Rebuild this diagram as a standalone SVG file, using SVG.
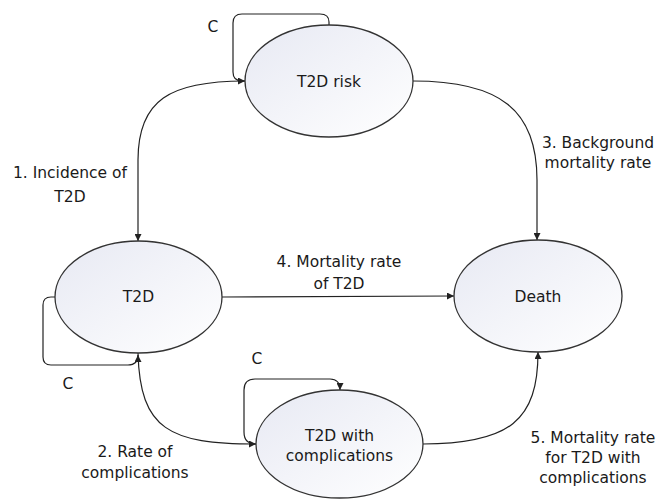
<svg xmlns="http://www.w3.org/2000/svg" width="658" height="499" viewBox="0 0 658 499">
<defs>
<linearGradient id="g" x1="0" y1="0" x2="1" y2="1">
<stop offset="0" stop-color="#e7e9f3"/>
<stop offset="1" stop-color="#ffffff"/>
</linearGradient>
<marker id="a" viewBox="0 0 10 10" refX="10" refY="5" markerWidth="7" markerHeight="7" markerUnits="userSpaceOnUse" orient="auto">
<path d="M0,0 L10,5 L0,10 Z" fill="#222"/>
</marker>
<style>
.n{fill:url(#g);stroke:#333;stroke-width:1.3}
.c{fill:none;stroke:#222;stroke-width:1.2;marker-end:url(#a)}
text{font-family:"DejaVu Sans","Verdana",sans-serif;font-size:15.5px;fill:#1a1a1a;text-anchor:middle}
</style>
</defs>
<rect width="658" height="499" fill="#fff"/>
<g id="connectors">
<path class="c" d="M329,25 L329,22 Q329,14 320,14 L242,14 Q233,14 233,23 L233,72 Q233,81 242,81 L245,81"/>
<path class="c" d="M245,81 C170,81 138,100 138,160 L138,241"/>
<path class="c" d="M413,81 C500,81 537,110 537,180 L537,240"/>
<path class="c" d="M222,297 L454,296"/>
<path class="c" d="M55,297 L51,297 Q43,297 43,305 L43,357 Q43,365 51,365 L128,365 Q138,365 138,355"/>
<path class="c" d="M138,353 C140,430 170,444 256,444"/>
<path class="c" d="M256,444 Q244,444 244,432 L244,390 Q244,379 255,379 L330,379 Q340,379 340,390"/>
<path class="c" d="M423,444 C510,444 538,420 538,352"/>
<text x="213" y="31.5">C</text>
<text x="70" y="177.5">1. Incidence of</text>
<text x="70" y="201.5">T2D</text>
<text x="598" y="147.5">3. Background</text>
<text x="598" y="167.5">mortality rate</text>
<text x="339" y="267">4. Mortality rate</text>
<text x="339" y="289">of T2D</text>
<text x="68" y="388.5">C</text>
<text x="135" y="457">2. Rate of</text>
<text x="135" y="478">complications</text>
<text x="257" y="363.5">C</text>
<text x="593" y="443">5. Mortality rate</text>
<text x="593" y="463">for T2D with</text>
<text x="593" y="483">complications</text>
</g>
<g id="t2d-risk"><ellipse class="n" cx="329" cy="81" rx="84" ry="56"/><text x="329" y="87">T2D risk</text></g>
<g id="t2d"><ellipse class="n" cx="138.5" cy="297" rx="83.5" ry="56"/><text x="138.5" y="302">T2D</text></g>
<g id="death"><ellipse class="n" cx="538" cy="296" rx="84" ry="56"/><text x="538" y="301.5">Death</text></g>
<g id="t2d-comp"><ellipse class="n" cx="339.5" cy="444" rx="83.5" ry="54"/><text x="339.5" y="441">T2D with</text><text x="339.5" y="461">complications</text></g>
</svg>
